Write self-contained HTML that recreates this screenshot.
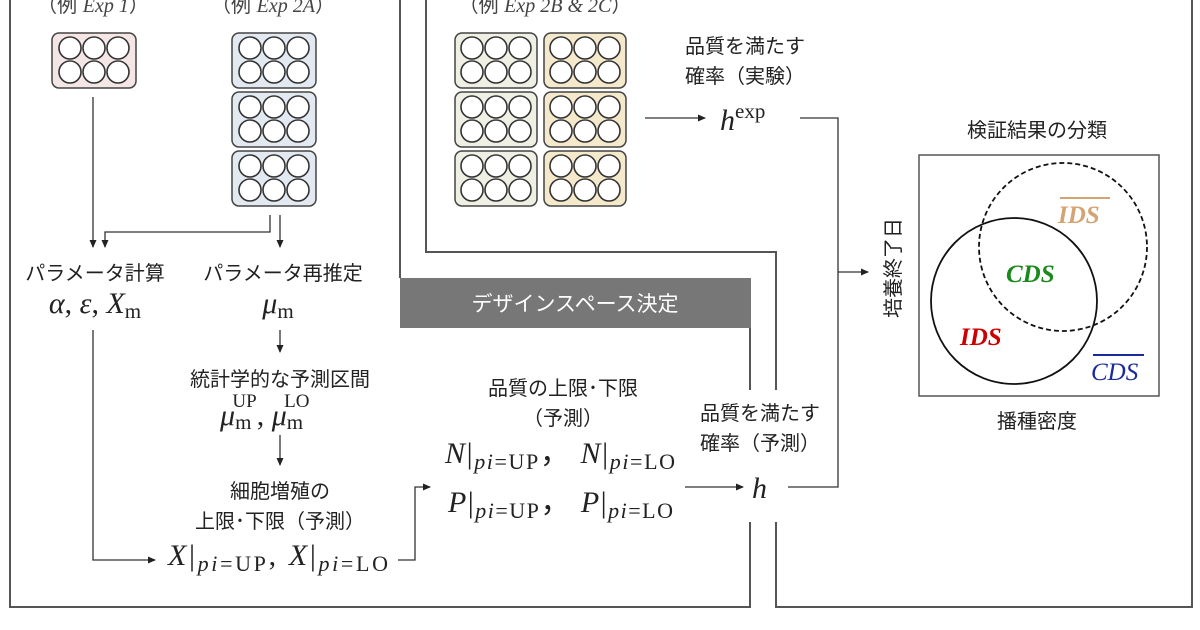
<!DOCTYPE html>
<html><head><meta charset="utf-8"><style>
html,body{margin:0;padding:0;background:#fff}
svg{display:block}
.j{font-family:"Liberation Sans","Noto Sans CJK JP",sans-serif;fill:#222}
.m{font-family:"Liberation Serif","DejaVu Serif",serif;fill:#222}
</style></head><body>
<svg width="1200" height="630" viewBox="0 0 1200 630" xmlns="http://www.w3.org/2000/svg">
<defs>
<marker id="a" markerWidth="8" markerHeight="8" refX="7" refY="4" orient="auto" markerUnits="userSpaceOnUse"><path d="M0,0.5 L8,4 L0,7.5z" fill="#222"/></marker>
<g id="c" fill="#fff" stroke="#333" stroke-width="1.6">
<circle cx="18" cy="15" r="11"/><circle cx="42" cy="15" r="11"/><circle cx="66" cy="15" r="11"/>
<circle cx="18" cy="39" r="11"/><circle cx="42" cy="39" r="11"/><circle cx="66" cy="39" r="11"/>
</g>
</defs>
<g fill="none" stroke="#555" stroke-width="2">
<path d="M10,0 V607 H750 V522 M750,390 V328"/>
<path d="M400,0 V278"/>
<path d="M426,0 V252 H776 V390 M776,522 V607 H1192 V0"/>
</g>
<rect x="400" y="278" width="351" height="50" fill="#777"/>
<text x="575" y="311" text-anchor="middle" class="j" style="fill:#fff;font-size:21px">デザインスペース決定</text>

<g stroke="#444" stroke-width="1.5">
<rect x="52" y="33" width="84" height="55" rx="7" fill="#f5e6e6"/>
<rect x="232" y="33" width="84" height="55" rx="7" fill="#e3e9f1"/>
<rect x="232" y="92" width="84" height="55" rx="7" fill="#e3e9f1"/>
<rect x="232" y="151" width="84" height="55" rx="7" fill="#e3e9f1"/>
<rect x="455" y="33" width="82" height="55" rx="7" fill="#efefe4"/>
<rect x="455" y="92" width="82" height="55" rx="7" fill="#efefe4"/>
<rect x="455" y="151" width="82" height="55" rx="7" fill="#efefe4"/>
<rect x="544" y="33" width="82" height="55" rx="7" fill="#f4e9cb"/>
<rect x="544" y="92" width="82" height="55" rx="7" fill="#f4e9cb"/>
<rect x="544" y="151" width="82" height="55" rx="7" fill="#f4e9cb"/>
</g>
<use href="#c" x="52" y="33"/>
<use href="#c" x="232" y="33"/><use href="#c" x="232" y="92"/><use href="#c" x="232" y="151"/>
<use href="#c" x="454" y="33"/><use href="#c" x="454" y="92"/><use href="#c" x="454" y="151"/>
<use href="#c" x="543" y="33"/><use href="#c" x="543" y="92"/><use href="#c" x="543" y="151"/>

<text x="93" y="12" text-anchor="middle" class="j" style="font-size:20px;fill:#444">（例 <tspan class="m" font-style="italic" style="fill:#444">Exp 1</tspan>）</text>
<text x="273" y="12" text-anchor="middle" class="j" style="font-size:20px;fill:#444">（例 <tspan class="m" font-style="italic" style="fill:#444">Exp 2A</tspan>）</text>
<text x="545" y="12" text-anchor="middle" class="j" style="font-size:20px;fill:#444">（例 <tspan class="m" font-style="italic" style="fill:#444">Exp 2B &amp; 2C</tspan>）</text>

<g fill="none" stroke="#333" stroke-width="1.3">
<path d="M93,97 V247" marker-end="url(#a)"/>
<path d="M270,215 V232 H105 V247" marker-end="url(#a)"/>
<path d="M280,215 V247" marker-end="url(#a)"/>
<path d="M93,330 V560 H155" marker-end="url(#a)"/>
<path d="M280,330 V352" marker-end="url(#a)"/>
<path d="M280,435 V465" marker-end="url(#a)"/>
<path d="M398,560 H415 V487 H430" marker-end="url(#a)"/>
<path d="M685,487 H743" marker-end="url(#a)"/>
<path d="M645,118 H705" marker-end="url(#a)"/>
<path d="M788,487 H838 V118 H800"/>
<path d="M838,272 H868" marker-end="url(#a)"/>
</g>

<g class="j" style="font-size:20px" text-anchor="middle">
<text x="95" y="280">パラメータ計算</text>
<text x="283" y="280">パラメータ再推定</text>
<text x="280" y="386">統計学的な予測区間</text>
<text x="280" y="498">細胞増殖の</text>
<text x="280" y="528">上限･下限（予測）</text>
<text x="563" y="395">品質の上限･下限</text>
<text x="563" y="425">（予測）</text>
<text x="760" y="420">品質を満たす</text>
<text x="760" y="450">確率（予測）</text>
<text x="745" y="53">品質を満たす</text>
<text x="745" y="83">確率（実験）</text>
<text x="1037" y="137">検証結果の分類</text>
<text x="1037" y="428">播種密度</text>
<text transform="translate(900,268) rotate(-90)">培養終了日</text>
</g>

<g class="m" style="font-size:30px">
<text x="95" y="313" text-anchor="middle"><tspan font-style="italic">α</tspan>, <tspan font-style="italic">ε</tspan>, <tspan font-style="italic">X</tspan><tspan font-size="21" dy="5">m</tspan></text>
<text x="278" y="313" text-anchor="middle"><tspan font-style="italic">μ</tspan><tspan font-size="21" dy="5">m</tspan></text>
<text x="220" y="425"><tspan font-style="italic">μ</tspan><tspan font-size="21" dy="4">m</tspan><tspan font-size="19" dx="-19" dy="-22">UP</tspan><tspan dy="18">, </tspan><tspan font-style="italic">μ</tspan><tspan font-size="21" dy="4">m</tspan><tspan font-size="19" dx="-19" dy="-22">LO</tspan></text>
<text x="168" y="565" textLength="220" lengthAdjust="spacing"><tspan font-style="italic">X</tspan>|<tspan font-size="22" dy="6"><tspan font-style="italic">pi</tspan>=UP</tspan><tspan dy="-6">, </tspan><tspan font-style="italic">X</tspan>|<tspan font-size="22" dy="6"><tspan font-style="italic">pi</tspan>=LO</tspan></text>
<text x="445" y="463" textLength="230" lengthAdjust="spacing"><tspan font-style="italic">N</tspan>|<tspan font-size="22" dy="6"><tspan font-style="italic">pi</tspan>=UP</tspan><tspan dy="-6">， </tspan><tspan font-style="italic">N</tspan>|<tspan font-size="22" dy="6"><tspan font-style="italic">pi</tspan>=LO</tspan></text>
<text x="448" y="512" textLength="225" lengthAdjust="spacing"><tspan font-style="italic">P</tspan>|<tspan font-size="22" dy="6"><tspan font-style="italic">pi</tspan>=UP</tspan><tspan dy="-6">， </tspan><tspan font-style="italic">P</tspan>|<tspan font-size="22" dy="6"><tspan font-style="italic">pi</tspan>=LO</tspan></text>
<text x="752" y="498" font-style="italic">h</text>
<text x="720" y="130"><tspan font-style="italic">h</tspan><tspan font-size="21" dy="-12">exp</tspan></text>
</g>

<rect x="919" y="155" width="240" height="241" fill="none" stroke="#555" stroke-width="1.5"/>
<circle cx="1014" cy="301" r="83" fill="none" stroke="#111" stroke-width="1.8"/>
<circle cx="1063" cy="247" r="84" fill="none" stroke="#111" stroke-width="1.8" stroke-dasharray="5,3"/>
<g class="m" style="font-size:25px;font-weight:bold;font-style:italic">
<text x="1058" y="223" style="fill:#d4a373">IDS</text>
<line x1="1060" y1="198" x2="1110" y2="198" stroke="#d4a373" stroke-width="2"/>
<text x="1006" y="282" style="fill:#1a8a1a">CDS</text>
<text x="960" y="345" style="fill:#c00">IDS</text>
<text x="1091" y="380" style="fill:#1a2a9a;font-weight:normal">CDS</text>
<line x1="1093" y1="355" x2="1144" y2="355" stroke="#1a2a9a" stroke-width="2"/>
</g>
</svg>
</body></html>
